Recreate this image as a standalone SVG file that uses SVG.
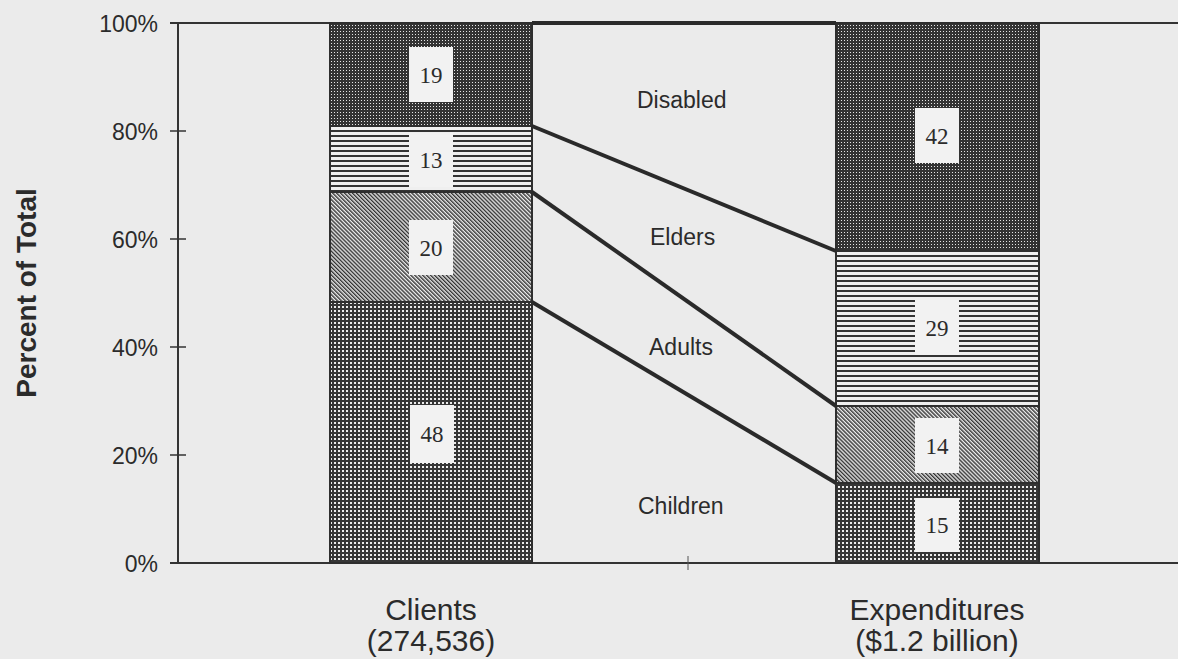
<svg xmlns="http://www.w3.org/2000/svg" width="1178" height="659" viewBox="0 0 1178 659">
<style>
.lbl{font-family:"Liberation Sans",Arial,sans-serif;font-size:23px;fill:#2b2b2b}
.tick{font-family:"Liberation Sans",Arial,sans-serif;font-size:23px;fill:#2b2b2b;text-anchor:end}
.num{font-family:"Liberation Serif","Times New Roman",serif;font-size:23px;fill:#2b2b2b;text-anchor:middle}
.cat{font-family:"Liberation Sans",Arial,sans-serif;font-size:30px;fill:#2b2b2b;text-anchor:middle}
.title{font-family:"Liberation Sans",Arial,sans-serif;font-size:28px;font-weight:bold;fill:#2b2b2b;text-anchor:middle}
.seg{stroke:#2e2e2e;stroke-width:2}
.box{fill:#f2f2f2}
.ax{stroke:#333;stroke-width:2;fill:none}
.tk{stroke:#333;stroke-width:1.5}
.conn{stroke:#2a2a2a;stroke-width:4;fill:none;stroke-linecap:butt}
</style>
<defs>
<pattern id="pDots" width="3" height="3" patternUnits="userSpaceOnUse"><rect width="3" height="3" fill="#333"/><rect x="1" y="1" width="1" height="1" fill="#e6e6e6"/></pattern>
<pattern id="pHoriz" width="5" height="5" patternUnits="userSpaceOnUse"><rect width="5" height="5" fill="#efefef"/><rect width="5" height="2" fill="#333"/></pattern>
<pattern id="pDiag" width="2.8" height="2.8" patternUnits="userSpaceOnUse" patternTransform="rotate(-45)"><rect width="2.8" height="2.8" fill="#ececec"/><rect width="1.4" height="2.8" fill="#333"/></pattern>
<pattern id="pGrid" width="4" height="4" patternUnits="userSpaceOnUse"><rect width="4" height="4" fill="#363636"/><rect x="2" y="2" width="2" height="2" fill="#ececec"/></pattern>
</defs>
<rect width="1178" height="659" fill="#ebebeb"/>

<g id="axes">
<line class="ax" x1="170" y1="23" x2="1178" y2="23"/>
<line class="ax" x1="170" y1="563" x2="1178" y2="563"/>
<line class="ax" x1="178" y1="23" x2="178" y2="563"/>
<line class="tk" x1="170" y1="131" x2="186" y2="131"/>
<line class="tk" x1="170" y1="239" x2="186" y2="239"/>
<line class="tk" x1="170" y1="347" x2="186" y2="347"/>
<line class="tk" x1="170" y1="455" x2="186" y2="455"/>
<line stroke="#555" stroke-width="1" x1="688" y1="556" x2="688" y2="570"/>
<text class="tick" x="158" y="32">100%</text>
<text class="tick" x="158" y="140">80%</text>
<text class="tick" x="158" y="248">60%</text>
<text class="tick" x="158" y="356">40%</text>
<text class="tick" x="158" y="464">20%</text>
<text class="tick" x="158" y="572">0%</text>
<text class="title" transform="translate(36,293) rotate(-90)">Percent of Total</text>
</g>

<g id="clients-disabled">
<rect class="seg" x="330" y="23" width="202" height="103" fill="url(#pDots)"/>
<rect class="box" x="409" y="47" width="44" height="55"/>
<text class="num" x="431" y="83">19</text>
</g>
<g id="clients-elders">
<rect class="seg" x="330" y="126" width="202" height="66" fill="url(#pHoriz)"/>
<rect class="box" x="409" y="133" width="44" height="54"/>
<text class="num" x="431" y="168">13</text>
</g>
<g id="clients-adults">
<rect class="seg" x="330" y="192" width="202" height="110" fill="url(#pDiag)"/>
<rect class="box" x="409" y="220" width="44" height="55"/>
<text class="num" x="431" y="256">20</text>
</g>
<g id="clients-children">
<rect class="seg" x="330" y="302" width="202" height="261" fill="url(#pGrid)"/>
<rect class="box" x="410" y="405" width="44" height="58"/>
<text class="num" x="432" y="442">48</text>
</g>

<g id="exp-disabled">
<rect class="seg" x="836" y="23" width="203" height="228" fill="url(#pDots)"/>
<rect class="box" x="915" y="108" width="44" height="55"/>
<text class="num" x="937" y="144">42</text>
</g>
<g id="exp-elders">
<rect class="seg" x="836" y="251" width="203" height="155" fill="url(#pHoriz)"/>
<rect class="box" x="915" y="300" width="44" height="55"/>
<text class="num" x="937" y="336">29</text>
</g>
<g id="exp-adults">
<rect class="seg" x="836" y="406" width="203" height="77" fill="url(#pDiag)"/>
<rect class="box" x="915" y="418" width="44" height="55"/>
<text class="num" x="937" y="454">14</text>
</g>
<g id="exp-children">
<rect class="seg" x="836" y="483" width="203" height="80" fill="url(#pGrid)"/>
<rect class="box" x="915" y="498" width="44" height="54"/>
<text class="num" x="937" y="533">15</text>
</g>

<g id="connectors">
<line class="conn" x1="532" y1="23" x2="836" y2="23"/>
<line class="conn" x1="532" y1="126" x2="836" y2="251"/>
<line class="conn" x1="532" y1="192" x2="836" y2="406"/>
<line class="conn" x1="532" y1="302" x2="836" y2="483"/>
</g>

<g id="labels">
<text class="lbl" x="637" y="108">Disabled</text>
<text class="lbl" x="650" y="245">Elders</text>
<text class="lbl" x="649" y="355">Adults</text>
<text class="lbl" x="638" y="514">Children</text>
<text class="cat" x="431" y="620">Clients</text>
<text class="cat" x="431" y="651">(274,536)</text>
<text class="cat" x="937" y="620">Expenditures</text>
<text class="cat" x="937" y="651">($1.2 billion)</text>
</g>
</svg>
